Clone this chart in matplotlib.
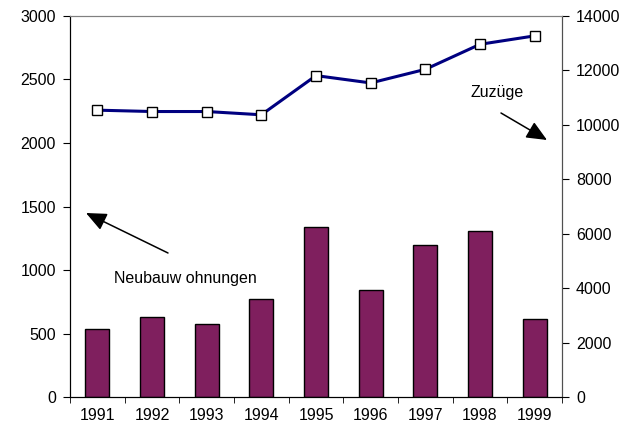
import matplotlib.pyplot as plt
import numpy as np

plt.rcParams['font.family'] = ['Liberation Sans', 'DejaVu Sans']
plt.rcParams['font.size'] = 11.5

years = ['1991', '1992', '1993', '1994', '1995', '1996', '1997', '1998', '1999']
neubau = [534, 632, 571, 768, 1337, 842, 1200, 1311, 618]
zuzuege = [10540, 10490, 10490, 10370, 11810, 11540, 12040, 12960, 13270]

fig = plt.figure(figsize=(6.37, 4.30), dpi=100)
ax = fig.add_axes([0.1099, 0.0767, 0.7724, 0.8861])
ax2 = ax.twinx()

x = np.arange(len(years))
ax.bar(x, neubau, width=0.44, color='#7F1F5E', edgecolor='black', linewidth=1.0, zorder=2)
ax.set_xlim(-0.5, len(years) - 0.5)
ax.set_ylim(0, 3000)
ax.set_yticks(range(0, 3001, 500))
ax.set_xticks(x)
ax.set_xticklabels(years)
ax.set_xticks(np.arange(-0.5, len(years)), minor=True)
ax.tick_params(axis='x', which='major', length=0, pad=8)
ax.tick_params(axis='x', which='minor', length=4, direction='out')
ax.tick_params(axis='y', length=5, direction='out', pad=5)

ax2.plot(x, zuzuege, color='#000080', linewidth=2.2, marker='s', markersize=7,
         markerfacecolor='white', markeredgecolor='black', markeredgewidth=1.0, zorder=3)
ax2.set_ylim(0, 14000)
ax2.set_yticks(range(0, 14001, 2000))
ax2.tick_params(axis='y', length=5, direction='out', pad=5)

for a in (ax, ax2):
    a.spines['top'].set_color('#808080')
    a.spines['right'].set_color('#505050')
    a.spines['left'].set_color('black')
    a.spines['bottom'].set_color('black')

arrow = dict(arrowstyle='-|>,head_length=1.25,head_width=0.55', color='black',
             lw=1.1, mutation_scale=10, shrinkA=0, shrinkB=0)
ax2.annotate('', xy=(547, 290), xytext=(501, 317), xycoords='figure pixels',
             textcoords='figure pixels', arrowprops=arrow)
fig.text(497.5, 337, 'Zuzüge', transform=None, ha='center', va='center')

ax2.annotate('', xy=(86, 217), xytext=(168, 177), xycoords='figure pixels',
             textcoords='figure pixels', arrowprops=arrow)
fig.text(185, 152, 'Neubauw ohnungen', transform=None, ha='center', va='center')

fig.savefig('out.png', dpi=100)
